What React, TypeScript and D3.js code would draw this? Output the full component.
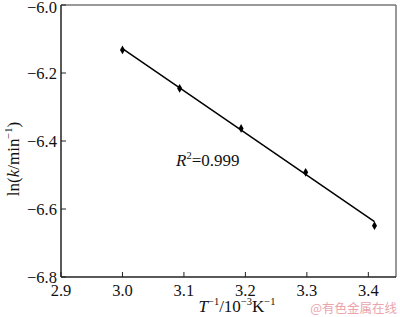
import React from "react";
import * as d3 from "d3";

const invT = [3.0, 3.093, 3.193, 3.298, 3.41];
const lnK = [-6.132, -6.245, -6.363, -6.492, -6.649];
const fitX = [3.0, 3.41];
const fitY = [-6.128, -6.637];
const xTicks = [2.9, 3.0, 3.1, 3.2, 3.3, 3.4];
const yTicks = [-6.0, -6.2, -6.4, -6.6, -6.8];

const W = 400, H = 317;
const L = 61, R = 396, T = 5, B = 277;
const FONT = "'Liberation Serif', 'Times New Roman', serif";
const serif = { fontFamily: FONT };

export default function App() {
  const x = d3.scaleLinear().domain([2.9, 3.445]).range([L, R]);
  const y = d3.scaleLinear().domain([-6.8, -6.0]).range([B, T]);
  const line = d3.line<number>().x((d, i) => x(fitX[i])).y((d) => y(d));
  const diamond = d3.symbol(d3.symbolDiamond, 22)();
  return (
    <svg width={W} height={H} style={{ position: "absolute", left: 0, top: 0, background: "#fff" }}>
      <rect x={0} y={0} width={W} height={H} fill="#fff" />
      <line x1={L} y1={T} x2={R} y2={T} stroke="#777" strokeWidth={1.5} />
      <line x1={R} y1={T} x2={R} y2={B} stroke="#777" strokeWidth={1.5} />
      <line x1={L} y1={T} x2={L} y2={B} stroke="#222" strokeWidth={1.5} />
      <line x1={L} y1={B} x2={R} y2={B} stroke="#222" strokeWidth={1.5} />
      {xTicks.map((t) => (
        <g key={"x" + t}>
          <line x1={x(t)} x2={x(t)} y1={B} y2={B - 5} stroke="#222" strokeWidth={1} />
          <text x={x(t)} y={295.5} fontSize={16.5} textAnchor="middle" fill="#111" style={serif}>{t.toFixed(1)}</text>
        </g>
      ))}
      {yTicks.map((t) => (
        <g key={"y" + t}>
          <line x1={L} x2={L + 5} y1={y(t)} y2={y(t)} stroke="#222" strokeWidth={1} />
          <text x={57} y={Math.max(y(t) + 6, 13)} fontSize={16.5} textAnchor="end" fill="#111" style={serif}>{"\u2212" + Math.abs(t).toFixed(1)}</text>
        </g>
      ))}
      <path d={line(fitY) || ""} fill="none" stroke="#000" strokeWidth={1.5} />
      {invT.map((v, i) => (
        <path key={i} d={diamond || ""} transform={`translate(${x(v)},${y(lnK[i])})`} fill="#000" />
      ))}
      <text x={176} y={166} fontSize={17} fill="#111" style={serif}>
        <tspan fontStyle="italic">R</tspan>
        <tspan fontSize={10.5} dy={-7}>2</tspan>
        <tspan dy={7}>=0.999</tspan>
      </text>
      <text transform="translate(19,159) rotate(-90)" fontSize={17} textAnchor="middle" fill="#111" style={serif}>
        <tspan>ln(</tspan>
        <tspan fontStyle="italic">k</tspan>
        <tspan>/min</tspan>
        <tspan fontSize={10.5} dy={-7}>{"\u22121"}</tspan>
        <tspan dy={7}>)</tspan>
      </text>
      <text x={237} y={312} fontSize={17} textAnchor="middle" fill="#111" style={serif}>
        <tspan fontStyle="italic">T</tspan>
        <tspan fontSize={10.5} dy={-7}>{"\u22121"}</tspan>
        <tspan dy={7}>/10</tspan>
        <tspan fontSize={10.5} dy={-7}>{"\u22123"}</tspan>
        <tspan dy={7}>K</tspan>
        <tspan fontSize={10.5} dy={-7}>{"\u22121"}</tspan>
      </text>
      <text x={397} y={313} fontSize={12.5} textAnchor="end" fill="#eaa5ad" style={{ fontFamily: "'Noto Sans CJK SC', sans-serif" }}>@有色金属在线</text>
    </svg>
  );
}
